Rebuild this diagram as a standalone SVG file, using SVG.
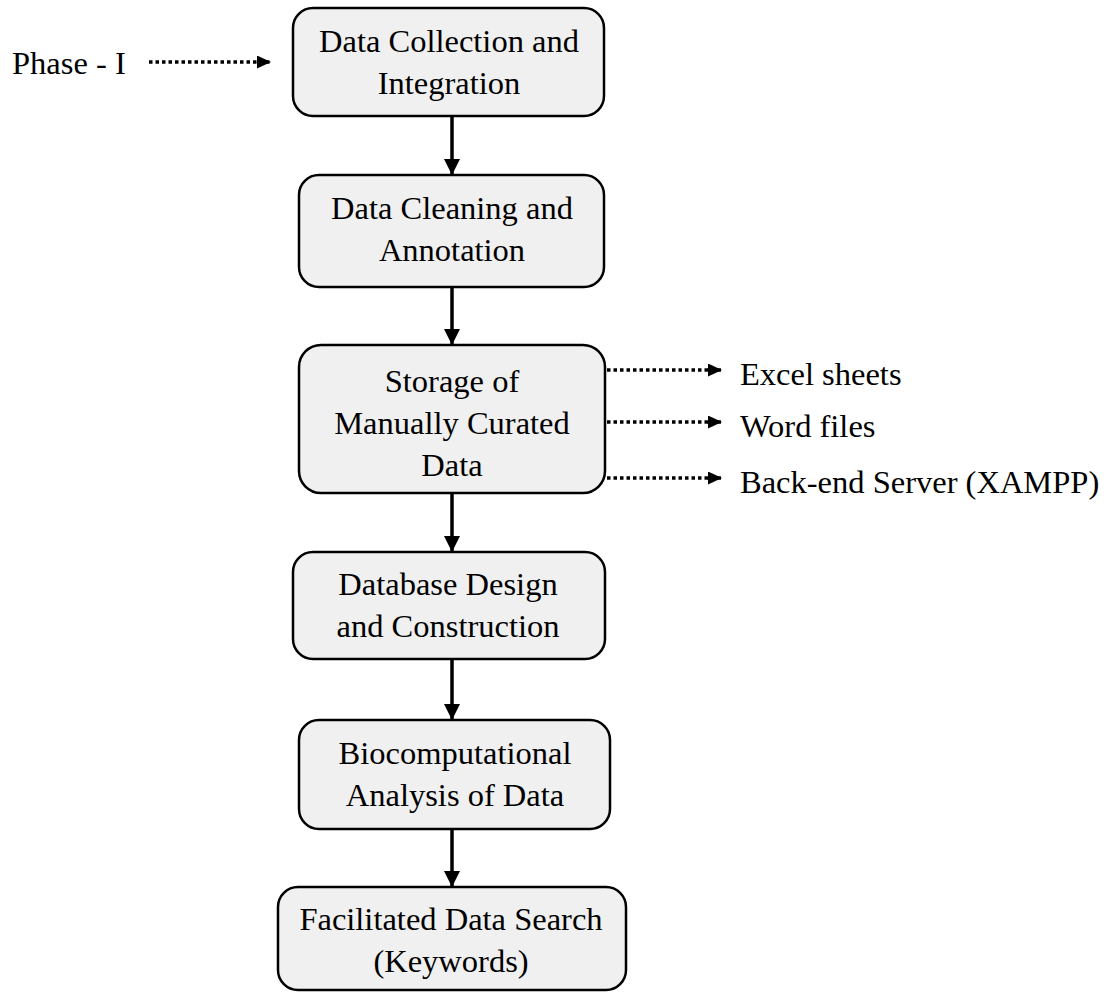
<svg xmlns="http://www.w3.org/2000/svg" width="1104" height="994" viewBox="0 0 1104 994">
  <style>
    .box { fill: #f0f0f0; stroke: #000; stroke-width: 2.5; }
    .lbl { font-family: "Liberation Serif", "Times New Roman", serif; font-size: 32.5px; fill: #000; }
    .c { text-anchor: middle; }
    .flow { stroke: #000; stroke-width: 3.5; fill: none; }
    .dot { stroke: #000; stroke-width: 3.5; fill: none; stroke-dasharray: 3.5 3; }
  </style>
  <defs>
    <marker id="arrowDown" markerUnits="userSpaceOnUse" markerWidth="16" markerHeight="16" refX="16" refY="8" orient="auto">
      <path d="M0,0 L16,8 L0,16 Z" fill="#000"/>
    </marker>
    <marker id="arrowSide" markerUnits="userSpaceOnUse" markerWidth="14" markerHeight="13" refX="14" refY="6.5" orient="auto">
      <path d="M0,0 L14,6.5 L0,13 Z" fill="#000"/>
    </marker>
  </defs>
  <rect width="1104" height="994" fill="#fff"/>

  <!-- connectors -->
  <g id="connectors">
    <line class="flow" x1="452" y1="117" x2="452" y2="175" marker-end="url(#arrowDown)"/>
    <line class="flow" x1="452" y1="287" x2="452" y2="345" marker-end="url(#arrowDown)"/>
    <line class="flow" x1="452" y1="493" x2="452" y2="552" marker-end="url(#arrowDown)"/>
    <line class="flow" x1="452" y1="659" x2="452" y2="720" marker-end="url(#arrowDown)"/>
    <line class="flow" x1="452" y1="829" x2="452" y2="887" marker-end="url(#arrowDown)"/>
    <line class="dot" x1="149" y1="62" x2="271" y2="62" marker-end="url(#arrowSide)"/>
    <line class="dot" x1="607" y1="370" x2="722" y2="370" marker-end="url(#arrowSide)"/>
    <line class="dot" x1="607" y1="422" x2="722" y2="422" marker-end="url(#arrowSide)"/>
    <line class="dot" x1="607" y1="478" x2="722" y2="478" marker-end="url(#arrowSide)"/>
  </g>

  <!-- side labels -->
  <text id="phase" class="lbl" x="12" y="74">Phase - I</text>
  <text id="excel" class="lbl" x="740" y="385">Excel sheets</text>
  <text id="word" class="lbl" x="740" y="437">Word files</text>
  <text id="server" class="lbl" x="740" y="493">Back-end Server (XAMPP)</text>

  <!-- process steps -->
  <g id="collection">
    <rect class="box" x="293" y="8" width="311" height="108" rx="20"/>
    <text class="lbl c" x="449" y="52">Data Collection and</text>
    <text class="lbl c" x="449" y="94">Integration</text>
  </g>
  <g id="cleaning">
    <rect class="box" x="299" y="175" width="305" height="112" rx="20"/>
    <text class="lbl c" x="452" y="219">Data Cleaning and</text>
    <text class="lbl c" x="452" y="261">Annotation</text>
  </g>
  <g id="storage">
    <rect class="box" x="299" y="345" width="306" height="148" rx="22"/>
    <text class="lbl c" x="452" y="392">Storage of</text>
    <text class="lbl c" x="452" y="434">Manually Curated</text>
    <text class="lbl c" x="452" y="476">Data</text>
  </g>
  <g id="design">
    <rect class="box" x="293" y="552" width="312" height="107" rx="20"/>
    <text class="lbl c" x="448" y="595">Database Design</text>
    <text class="lbl c" x="448" y="637">and Construction</text>
  </g>
  <g id="analysis">
    <rect class="box" x="299" y="720" width="311" height="109" rx="20"/>
    <text class="lbl c" x="455" y="764">Biocomputational</text>
    <text class="lbl c" x="455" y="806">Analysis of Data</text>
  </g>
  <g id="search">
    <rect class="box" x="278" y="887" width="348" height="103" rx="20"/>
    <text class="lbl c" x="451" y="930">Facilitated Data Search</text>
    <text class="lbl c" x="451" y="972">(Keywords)</text>
  </g>
</svg>
